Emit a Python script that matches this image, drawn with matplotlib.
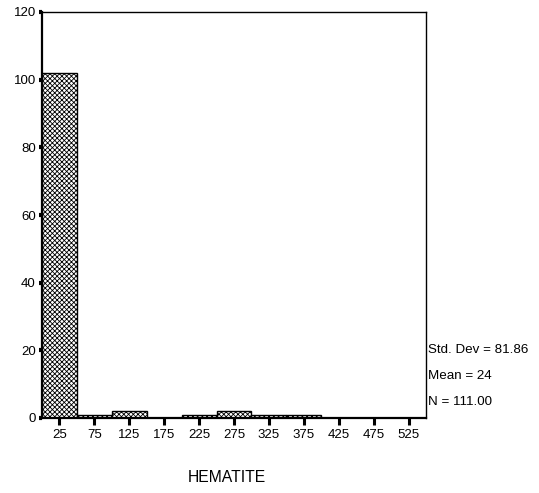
import matplotlib
matplotlib.use("Agg")
import matplotlib.pyplot as plt

plt.rcParams["font.family"] = ["Liberation Sans", "DejaVu Sans"]
plt.rcParams["hatch.linewidth"] = 0.6

# histogram data
bin_centers = [25, 75, 125, 175, 225, 275, 325, 375, 425, 475, 525]
counts = [102, 1, 2, 0, 1, 2, 1, 1, 0, 0, 0]
y_ticks = [0, 20, 40, 60, 80, 100, 120]
stats_lines = ["Std. Dev = 81.86", "Mean = 24", "N = 111.00"]

fig = plt.figure(figsize=(5.39, 4.93), dpi=100)
ax = fig.add_axes([42 / 539, 1 - 418 / 493, (426 - 42) / 539, (418 - 12) / 493])

ax.bar(bin_centers, counts, width=50, color="white", edgecolor="black",
       linewidth=1.0, hatch="xxxxxxx")

ax.set_xlim(0, 550)
ax.set_ylim(0, 120)
ax.set_xticks(bin_centers)
ax.set_xticklabels([str(c) for c in bin_centers])
ax.set_yticks(y_ticks)

for s in ax.spines.values():
    s.set_linewidth(1.0)
ax.spines["left"].set_linewidth(1.6)
ax.spines["bottom"].set_linewidth(1.6)

ax.tick_params(axis="x", direction="out", length=5, width=2.2, labelsize=9.5, pad=3)
ax.tick_params(axis="y", direction="out", length=2.5, width=3, labelsize=9.5, pad=2)

fig.text(227 / 539, 1 - 478 / 493, "HEMATITE", fontsize=11.3,
         ha="center", va="center")

for i, line in enumerate(stats_lines):
    fig.text(428 / 539, 1 - (350 + i * 26) / 493, line, fontsize=9.6,
             ha="left", va="center")

fig.savefig("out.png", dpi=100)
